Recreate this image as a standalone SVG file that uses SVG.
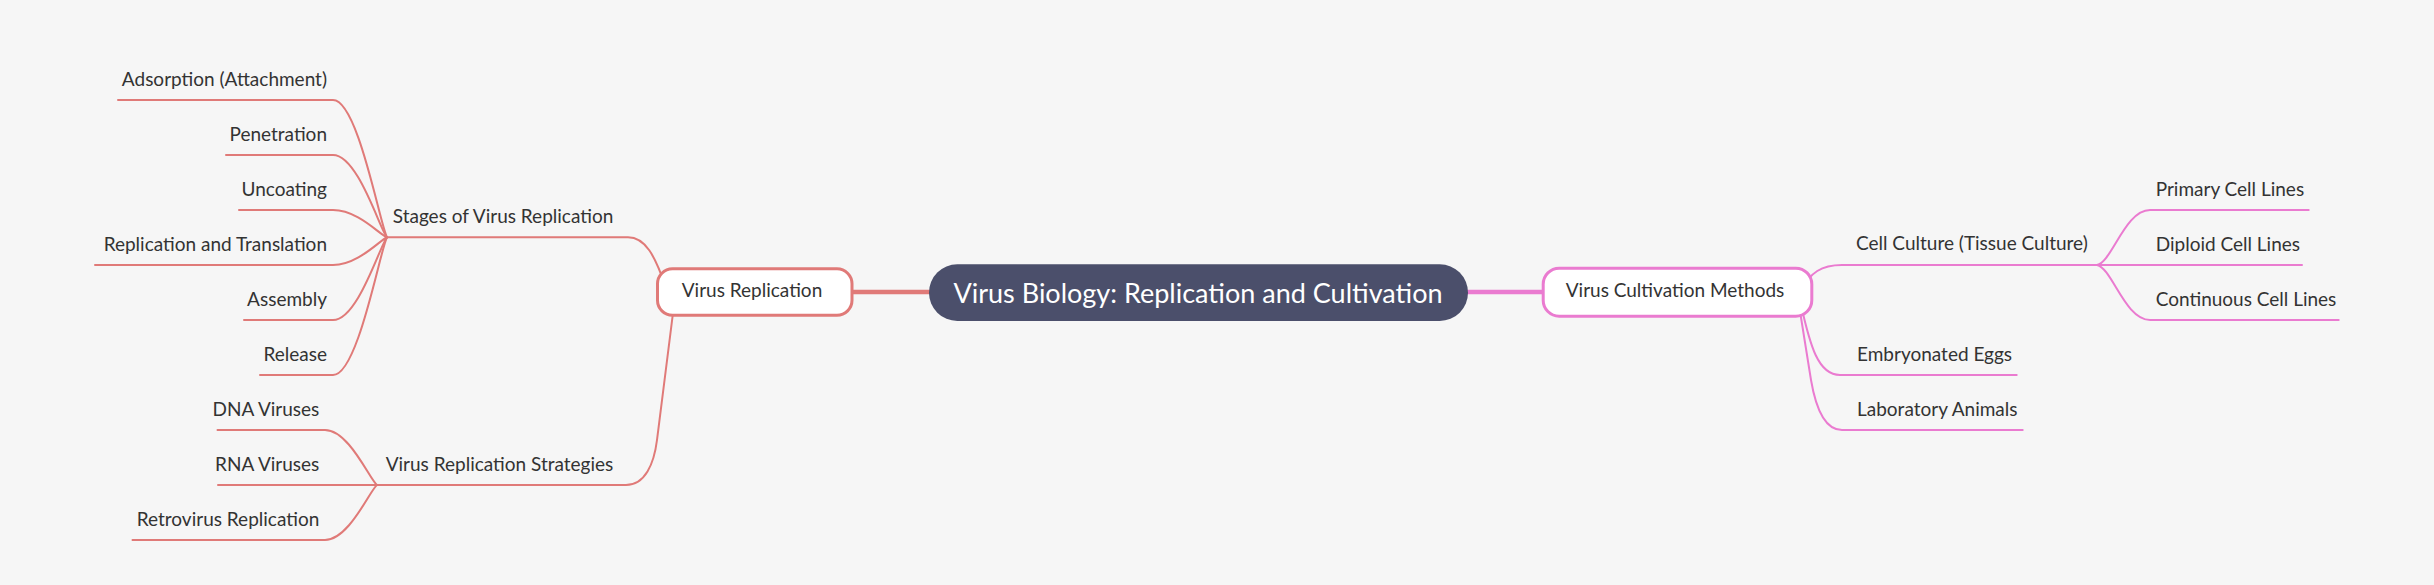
<svg xmlns="http://www.w3.org/2000/svg" width="2434" height="585" viewBox="0 0 2434 585">
<style>
.bg{fill:#f6f6f6}
.red{fill:none;stroke:#e07a78;stroke-width:2;stroke-linecap:round}
.pink{fill:none;stroke:#ea7bd0;stroke-width:2;stroke-linecap:round}
.t{font-family:Lato,"Noto Sans",sans-serif;font-size:19px;fill:#333333}
.end{text-anchor:end}
.mid{text-anchor:middle}
.root{font-family:Lato,"Noto Sans",sans-serif;font-size:27px;fill:#ffffff;text-anchor:middle}
</style>
<rect class="bg" x="0" y="0" width="2434" height="585"/>
<g id="connectors">
  <!-- root links -->
  <line x1="850" y1="292" x2="935" y2="292" stroke="#e07a78" stroke-width="4.5"/>
  <line x1="1462" y1="292" x2="1546" y2="292" stroke="#ea7bd0" stroke-width="4.5"/>
  <!-- left level 2 -->
  <path class="red" d="M387 237.3 L628 237.3 C645 237.3 655 255 666 288"/>
  <path class="red" d="M377 485 L626 485 C645 485 654 464 657 440 L674 305"/>
  <!-- stages leaves -->
  <path class="red" d="M118 100 L333 100 C358 100 380 225 387 237.3"/>
  <path class="red" d="M226 155 L333 155 C358 155 380 230 387 237.3"/>
  <path class="red" d="M239 210 L333 210 C358 210 380 235 387 237.3"/>
  <path class="red" d="M95 265 L333 265 C358 265 380 240 387 237.3"/>
  <path class="red" d="M244 320 L333 320 C358 320 380 245 387 237.3"/>
  <path class="red" d="M260 375 L333 375 C358 375 380 250 387 237.3"/>
  <!-- strategies leaves -->
  <path class="red" d="M217.5 430 L325 430 C349 430 370 480 377 485"/>
  <path class="red" d="M218 485 L377 485"/>
  <path class="red" d="M132.5 540 L325 540 C349 540 370 490 377 485"/>
  <!-- right level 2 -->
  <path class="pink" d="M1800 292 C1810 272 1822 265 1842 265 L2097 265"/>
  <path class="pink" d="M1801 305 C1810 345 1818 375 1840 375 L2016.7 375"/>
  <path class="pink" d="M1799 305 L1811 380 C1816.5 412.5 1826 430 1842 430 L2022.7 430"/>
  <!-- cell culture leaves -->
  <path class="pink" d="M2097 265 C2112 262 2125 210 2150 210 L2308.7 210"/>
  <path class="pink" d="M2097 265 L2302 265"/>
  <path class="pink" d="M2097 265 C2112 268 2125 320 2150 320 L2338.7 320"/>
</g>
<g id="root">
  <rect x="929" y="264.3" width="539" height="56.7" rx="28.3" fill="#4b4f6b"/>
  <text class="root" x="1198" y="302.7">Virus Biology: Replication and Cultivation</text>
</g>
<g id="virus-replication">
  <rect x="657.5" y="268.8" width="194.5" height="46.5" rx="15" fill="#ffffff" stroke="#e07a78" stroke-width="3"/>
  <text class="t mid" x="752" y="296.7">Virus Replication</text>
</g>
<g id="virus-cultivation-methods">
  <rect x="1543.2" y="268.2" width="268.6" height="48" rx="16" fill="#ffffff" stroke="#ea7bd0" stroke-width="3"/>
  <text class="t mid" x="1675" y="296.7">Virus Cultivation Methods</text>
</g>
<g id="stages">
  <text class="t end" x="613.3" y="222.7">Stages of Virus Replication</text>
</g>
<g id="strategies">
  <text class="t end" x="613.3" y="470.5">Virus Replication Strategies</text>
</g>
<g id="adsorption"><text class="t end" x="327" y="85.7">Adsorption (Attachment)</text></g>
<g id="penetration"><text class="t end" x="327" y="140.7">Penetration</text></g>
<g id="uncoating"><text class="t end" x="327" y="195.7">Uncoating</text></g>
<g id="replication-translation"><text class="t end" x="327" y="250.5">Replication and Translation</text></g>
<g id="assembly"><text class="t end" x="327" y="305.5">Assembly</text></g>
<g id="release"><text class="t end" x="327" y="360.5">Release</text></g>
<g id="dna"><text class="t end" x="319.3" y="415.5">DNA Viruses</text></g>
<g id="rna"><text class="t end" x="319.3" y="470.5">RNA Viruses</text></g>
<g id="retrovirus"><text class="t end" x="319.3" y="525.5">Retrovirus Replication</text></g>
<g id="cell-culture"><text class="t" x="1856" y="249.5">Cell Culture (Tissue Culture)</text></g>
<g id="embryonated"><text class="t" x="1857" y="360.5">Embryonated Eggs</text></g>
<g id="laboratory"><text class="t" x="1857" y="415.5">Laboratory Animals</text></g>
<g id="primary"><text class="t" x="2155.7" y="195.5">Primary Cell Lines</text></g>
<g id="diploid"><text class="t" x="2155.7" y="250.5">Diploid Cell Lines</text></g>
<g id="continuous"><text class="t" x="2155.7" y="305.5">Continuous Cell Lines</text></g>
</svg>
